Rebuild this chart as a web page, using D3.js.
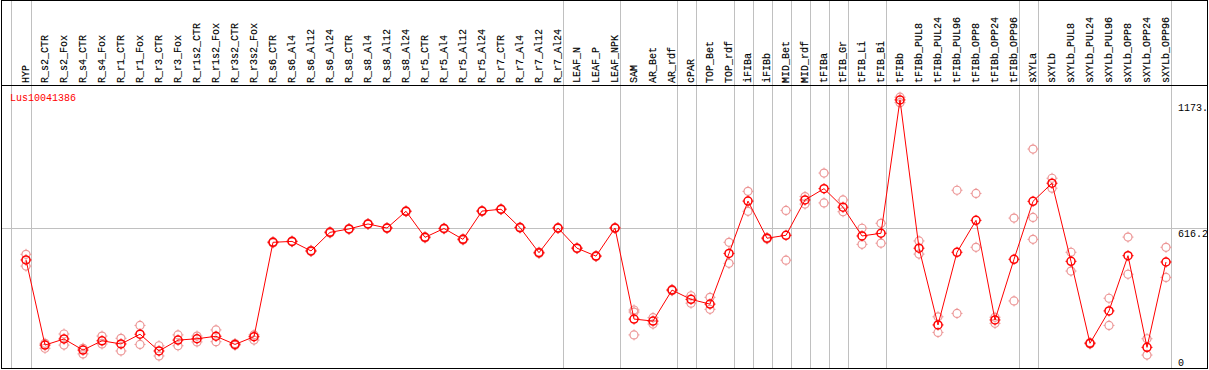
<!DOCTYPE html>
<html><head><meta charset="utf-8">
<script src="https://cdn.jsdelivr.net/npm/d3@7"></script>
<style>html,body{margin:0;padding:0;background:#fff;}svg{display:block;}</style>
</head><body><svg id="c" width="1209" height="370"></svg>
<script>
const title = "Lus10041386";
const categories = ["HYP","R_s2_CTR","R_s2_Fox","R_s4_CTR","R_s4_Fox","R_r1_CTR","R_r1_Fox","R_r3_CTR","R_r3_Fox","R_r1s2_CTR","R_r1s2_Fox","R_r3s2_CTR","R_r3s2_Fox","R_s6_CTR","R_s6_Al4","R_s6_Al12","R_s6_Al24","R_s8_CTR","R_s8_Al4","R_s8_Al12","R_s8_Al24","R_r5_CTR","R_r5_Al4","R_r5_Al12","R_r5_Al24","R_r7_CTR","R_r7_Al4","R_r7_Al12","R_r7_Al24","LEAF_N","LEAF_P","LEAF_NPK","SAM","AR_Bet","AR_rdf","cPAR","TOP_Bet","TOP_rdf","iFIBa","iFIBb","MID_Bet","MID_rdf","tFIBa","tFIB_Gr","tFIB_Li","tFIB_Bi","tFIBb","tFIBb_PUL8","tFIBb_PUL24","tFIBb_PUL96","tFIBb_OPP8","tFIBb_OPP24","tFIBb_OPP96","sXYLa","sXYLb","sXYLb_PUL8","sXYLb_PUL24","sXYLb_PUL96","sXYLb_OPP8","sXYLb_OPP24","sXYLb_OPP96"];
const means = [475,99,126,77,118,104,147,73,121,127,138,102,136,553,557,515,597,612,634,616,690,575,614,566,691,699,618,507,616,527,492,616,214,205,342,301,280,504,735,571,584,740,790,708,581,593,1182,527,188,509,650,210,478,734,814,469,107,250,494,89,466];
const replicates = [[500,448],[107,85],[148,99],[85,60],[139,104],[129,73],[186,102],[96,51],[144,96],[139,113],[166,114],[106,98],[144,121],[556,550],[559,555],[518,512],[600,594],[614,610],[636,632],[618,614],[692,688],[578,572],[616,612],[569,563],[693,689],[701,697],[620,616],[510,504],[618,614],[529,525],[494,490],[618,614],[254,245,144],[220,192],[345,339],[317,284],[310,257],[553,460],[778,690],[574,568],[694,474],[755,722],[859,727],[740,688],[615,544],[637,549],[1194,1170],[559,501],[224,155],[783,239],[769,531],[222,195],[660,294],[965,663,566],[836,792],[509,426],[110,104],[306,186],[576,412],[127,55],[531,398]];
const separatorsAfter = [0,28,31,34,35,37,38,39,40,41,42,43,45,52,53,60];
const tickValues = [0, 616.2, 1173];
const tickLabels = ["0","616.2","1173."];

const svg = d3.select("#c");
const FONT = "'Liberation Mono', 'DejaVu Sans Mono', monospace";
const x = d3.scaleLinear().domain([0, categories.length-1]).range([26, 1166]);
const y = d3.scaleLinear().domain([0, 616.2]).range([367.5, 228]);

// grid
const grid = svg.append("g").attr("stroke","#c0c0c0").attr("stroke-width",1);
grid.append("line").attr("x1",Math.round(x(-0.8))+0.5).attr("x2",Math.round(x(-0.8))+0.5).attr("y1",0).attr("y2",369);
separatorsAfter.forEach(i=>{
  const gx = Math.round(x(i+0.25))+0.5;
  grid.append("line").attr("x1",gx).attr("x2",gx).attr("y1",0).attr("y2",369);
});
grid.append("line").attr("x1",1).attr("x2",1208).attr("y1",Math.round(y(616.2))+0.5).attr("y2",Math.round(y(616.2))+0.5);

// frame
const frame = svg.append("g").attr("stroke","#000").attr("stroke-width",1).attr("fill","none");
frame.append("rect").attr("x",1.5).attr("y",0.5).attr("width",1206).attr("height",368);
frame.append("line").attr("x1",1).attr("x2",1208).attr("y1",85.5).attr("y2",85.5);

// category labels
svg.append("g").selectAll("text").data(categories).join("text")
  .attr("transform",(d,i)=>`translate(${x(i)-1},83) rotate(-90)`)
  .attr("dy","0.35em")
  .attr("font-family",FONT).attr("font-size",10).attr("fill","#000")
  .attr("stroke","#000").attr("stroke-width",0.15)
  .text(d=>d);

// title
svg.append("text").attr("x",10).attr("y",101).attr("font-family",FONT).attr("font-size",10).attr("fill","#ff0000").text(title);

// y labels
svg.append("g").selectAll("text").data(tickValues).join("text")
  .attr("x",1178).attr("y",d=>Math.min(y(d)+8.6,366))
  .attr("font-family",FONT).attr("font-size",10).attr("fill","#000")
  .text((d,i)=>tickLabels[i]);

function marker(g, cx, cy, color, sw){
  g.append("circle").attr("cx",cx).attr("cy",cy).attr("r",4).attr("fill","none").attr("stroke",color).attr("stroke-width",sw);
  [[0,-1],[0,1],[-1,0],[1,0]].forEach(([dx,dy])=>{
    g.append("line").attr("x1",cx+dx*4).attr("y1",cy+dy*4).attr("x2",cx+dx*5.5).attr("y2",cy+dy*5.5)
      .attr("stroke",color).attr("stroke-width",1);
  });
}

// replicates
const rg = svg.append("g");
replicates.forEach((reps,i)=>reps.forEach(v=>marker(rg, x(i), y(v), "#ec9696", 1.2)));

// line
svg.append("path").datum(means)
  .attr("d", d3.line().x((d,i)=>x(i)).y(d=>y(d)))
  .attr("fill","none").attr("stroke","#ff0000").attr("stroke-width",1);

// means
const mg = svg.append("g");
means.forEach((v,i)=>marker(mg, x(i), y(v), "#ff0000", 1.5));
</script>
</body></html>
